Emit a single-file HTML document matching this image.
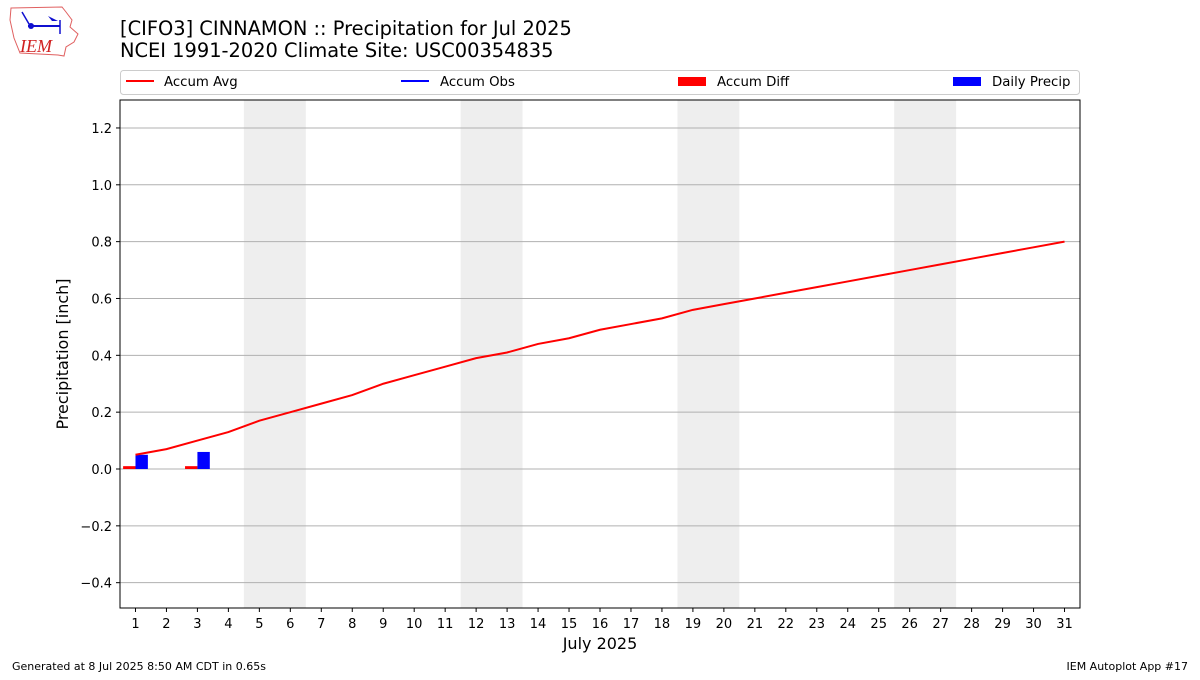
<!DOCTYPE html>
<html><head><meta charset="utf-8"><style>
body{margin:0;background:#fff;}
svg{font-family:"DejaVu Sans","Liberation Sans",sans-serif;}
</style></head><body>
<svg id="c" width="1200" height="675" xmlns="http://www.w3.org/2000/svg">
<g>
<path d="M11 8 L62 7 L66 12 L72 20 L70 27 L78 34 L74 42 L66 47 L64 56 L58 55 L20 53 L14 38 L10 20 Z" fill="none" stroke="#e06060" stroke-width="1"/>
<line x1="28" y1="26" x2="60" y2="26" stroke="#1010d0" stroke-width="2"/>
<circle cx="31" cy="26" r="3" fill="#1010d0"/>
<path d="M48 16 L58 21 L52 21 Z" fill="#1010d0"/>
<line x1="60" y1="20" x2="60" y2="34" stroke="#1010d0" stroke-width="1.5"/>
<line x1="22" y1="12" x2="29" y2="24" stroke="#1010d0" stroke-width="1.5"/>
<text x="20" y="52" font-family="Liberation Serif,serif" font-style="italic" font-size="18" fill="#d02020">IEM</text>
</g>
<text x="120" y="35" font-size="19.4" fill="#000">[CIFO3] CINNAMON :: Precipitation for Jul 2025</text>
<text x="120" y="57" font-size="19.4" fill="#000">NCEI 1991-2020 Climate Site: USC00354835</text>
<g>
<rect x="120.5" y="70.5" width="959" height="24" rx="3" fill="#fff" stroke="#ccc"/>
<g><line x1="126" y1="81" x2="154" y2="81" stroke="red" stroke-width="2"/><text x="164" y="86" font-size="13.3">Accum Avg</text></g>
<g><line x1="401" y1="81" x2="429" y2="81" stroke="blue" stroke-width="2"/><text x="440" y="86" font-size="13.3">Accum Obs</text></g>
<g><rect x="678" y="77" width="28" height="9" fill="red"/><text x="717" y="86" font-size="13.3">Accum Diff</text></g>
<g><rect x="953" y="77" width="28" height="9" fill="blue"/><text x="992" y="86" font-size="13.3">Daily Precip</text></g>
</g>
<g id="plot"></g>
<text x="12" y="670" font-size="11">Generated at 8 Jul 2025 8:50 AM CDT in 0.65s</text>
<text x="1188" y="670" font-size="11" text-anchor="end">IEM Autoplot App #17</text>
</svg>
<script>
const days=[1,2,3,4,5,6,7,8,9,10,11,12,13,14,15,16,17,18,19,20,21,22,23,24,25,26,27,28,29,30,31];
const accumAvg=[0.05,0.07,0.10,0.13,0.17,0.20,0.23,0.26,0.30,0.33,0.36,0.39,0.41,0.44,0.46,0.49,0.51,0.53,0.56,0.58,0.60,0.62,0.64,0.66,0.68,0.70,0.72,0.74,0.76,0.78,0.80];
const precipDays=[1,3];
const dailyPrecip=[0.05,0.06];
const diffDays=[1,3];
const accumDiff=[0.01,0.01];
const weekendStarts=[5,12,19,26];
const yTicks=[-0.4,-0.2,0.0,0.2,0.4,0.6,0.8,1.0,1.2];
const L=120,R=1080,T=100,B=608;
const X=d=>L+(d-0.5)/31*(R-L);
const Y=v=>469-v*284.2;
const NS='http://www.w3.org/2000/svg';
const g=document.getElementById('plot');
function mk(t,a,p){const e=document.createElementNS(NS,t);for(const k in a)e.setAttribute(k,a[k]);(p||g).appendChild(e);return e;}
weekendStarts.forEach(d=>{const e=mk('rect',{x:X(d-0.5),y:T,width:X(d+1.5)-X(d-0.5),height:B-T,fill:'#eeeeee'});

});
yTicks.forEach(v=>{const l=mk('line',{x1:L,x2:R,y1:Y(v),y2:Y(v),stroke:'#b0b0b0','stroke-width':1});


mk('line',{x1:L-4,x2:L,y1:Y(v),y2:Y(v),stroke:'#000'});
const t=mk('text',{x:L-8,y:Y(v)+5,'font-size':13,'text-anchor':'end'});t.textContent=v.toFixed(1).replace('-','\u2212');

});
diffDays.forEach((d,i)=>{const v=accumDiff[i];const e=mk('rect',{x:X(d-0.4),y:Math.min(Y(v),Y(0)),width:X(d)-X(d-0.4),height:Math.abs(Y(v)-Y(0)),fill:'red'});

});
precipDays.forEach((d,i)=>{const v=dailyPrecip[i];const e=mk('rect',{x:X(d),y:Y(v),width:X(d+0.4)-X(d),height:Y(0)-Y(v),fill:'blue'});

});
const pl=mk('polyline',{points:days.map((d,i)=>X(d)+','+Y(accumAvg[i])).join(' '),fill:'none',stroke:'red','stroke-width':2});


days.forEach(d=>{mk('line',{x1:X(d),x2:X(d),y1:B,y2:B+4,stroke:'#000'});
const t=mk('text',{x:X(d),y:B+20,'font-size':13,'text-anchor':'middle'});t.textContent=d;

});
const fr=mk('rect',{x:L,y:T,width:R-L,height:B-T,fill:'none',stroke:'#000','stroke-width':1});


const xt=mk('text',{x:(L+R)/2,y:649,'font-size':16,'text-anchor':'middle'});xt.textContent='July 2025';


const yt=mk('text',{x:0,y:0,'font-size':16,'text-anchor':'middle',transform:'translate(68,354) rotate(-90)'});yt.textContent='Precipitation [inch]';


</script>
</body></html>
